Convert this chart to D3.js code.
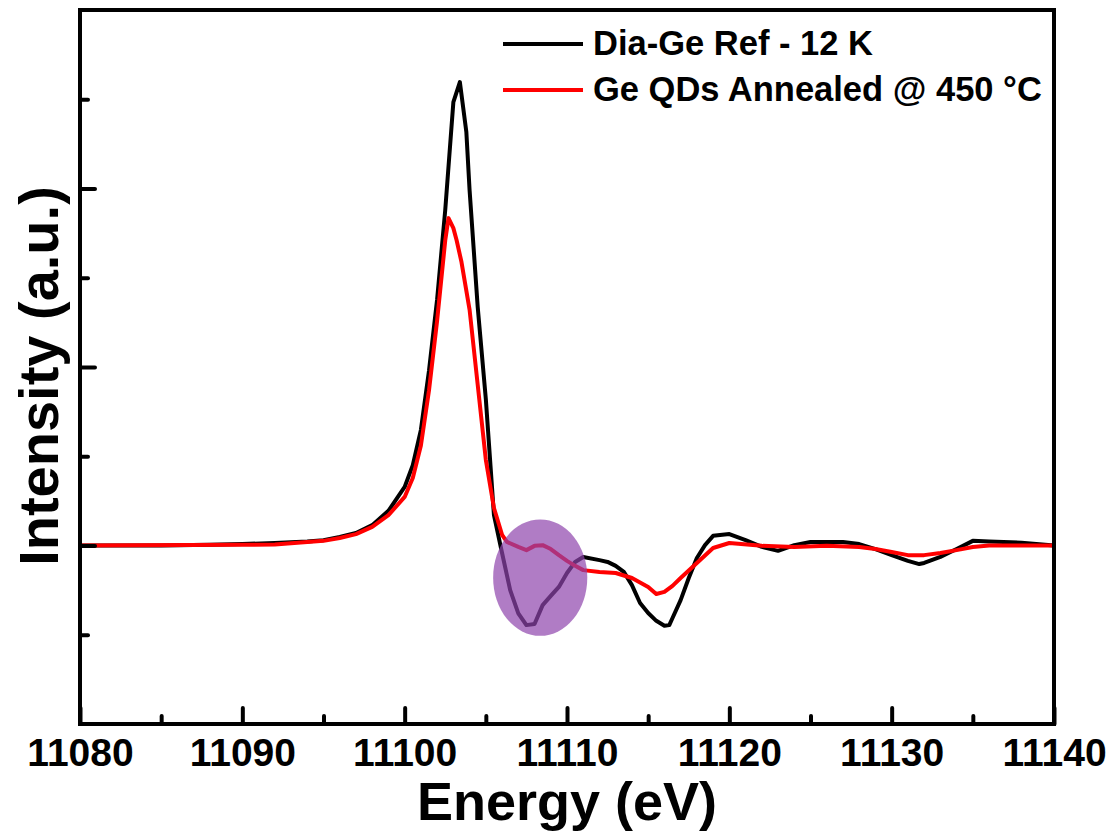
<!DOCTYPE html>
<html>
<head>
<meta charset="utf-8">
<script src="https://cdn.jsdelivr.net/npm/d3@7"></script>
<style>
  body { margin: 0; background: #fff; }
  text { font-family: "Liberation Sans", Arial, sans-serif; font-weight: bold; fill: #000; }
</style>
</head>
<body>
<svg id="chart" width="1117" height="836"></svg>
<script>
// energy (eV) / normalized intensity
var refEnergy = [11080, 11085, 11088, 11090, 11092, 11094, 11095, 11096, 11097, 11098, 11099, 11100,
    11100.5, 11101, 11101.5, 11102, 11102.5, 11103, 11103.4, 11103.8, 11104, 11104.5, 11105, 11105.5,
    11106, 11106.5, 11107, 11107.5, 11108, 11108.5, 11109, 11109.5, 11110, 11110.5, 11111, 11112,
    11112.5, 11113, 11113.5, 11114, 11114.5, 11115, 11115.5, 11116, 11116.3, 11116.5, 11117, 11117.5,
    11118, 11118.5, 11119, 11120, 11121, 11122, 11123, 11124, 11125, 11127, 11128, 11129, 11130,
    11131, 11131.7, 11132, 11133, 11134, 11135, 11136, 11138, 11140]
var refIntensity = [0, 0, 0.002, 0.004, 0.007, 0.011, 0.015, 0.024, 0.035, 0.057, 0.097, 0.164,
    0.225, 0.324, 0.49, 0.69, 0.94, 1.242, 1.298, 1.158, 0.995, 0.668, 0.41, 0.085,
    -0.021, -0.125, -0.19, -0.223, -0.22, -0.167, -0.141, -0.116, -0.077, -0.046, -0.032, -0.041,
    -0.046, -0.057, -0.074, -0.111, -0.161, -0.189, -0.211, -0.225, -0.223, -0.203, -0.153, -0.091,
    -0.035, 0.001, 0.027, 0.032, 0.015, -0.004, -0.015, 0.001, 0.01, 0.01, 0.004, -0.01, -0.027,
    -0.043, -0.052, -0.049, -0.032, -0.01, 0.013, 0.011, 0.008, 0]

var qdEnergy = [11080, 11090, 11092, 11094, 11095, 11096, 11097, 11098, 11099, 11100, 11100.5, 11101,
    11101.5, 11102, 11102.5, 11102.7, 11103, 11103.2, 11103.5, 11104, 11104.5, 11105, 11105.5, 11106,
    11106.3, 11107, 11107.5, 11108, 11108.5, 11109, 11109.5, 11110, 11110.5, 11111, 11112, 11113,
    11114, 11115, 11115.5, 11116, 11116.5, 11117, 11118, 11119, 11120, 11122, 11124, 11126, 11128,
    11129, 11130, 11131, 11132, 11133, 11134, 11135, 11136, 11140]
var qdIntensity = [0, 0.002, 0.003, 0.01, 0.013, 0.021, 0.032, 0.052, 0.085, 0.136, 0.189, 0.28,
    0.435, 0.63, 0.855, 0.917, 0.889, 0.855, 0.794, 0.66, 0.45, 0.24, 0.105, 0.03,
    0.01, -0.004, -0.013, -0.001, 0.001, -0.01, -0.027, -0.043, -0.057, -0.069, -0.074, -0.077,
    -0.091, -0.116, -0.136, -0.130, -0.113, -0.091, -0.049, -0.007, 0.007, -0.001, -0.004, -0.001, -0.004,
    -0.01, -0.018, -0.027, -0.027, -0.021, -0.013, -0.004, 0, 0]

var seriesNames = ["Dia-Ge Ref - 12 K", "Ge QDs Annealed @ 450 \u00B0C"]
var seriesColors = ["#000000", "#ff0000"]

var xMajor = [11080, 11090, 11100, 11110, 11120, 11130, 11140]
var xMinor = [11085, 11095, 11105, 11115, 11125, 11135]
var yMajor = [0, 0.5, 1.0]
var yMinor = [-0.25, 0.25, 0.75, 1.25]

// highlighted region (centre energy, centre intensity, half widths)
var highlight = { e: 11108.35, v: -0.09, re: 2.9, rv: 0.163 }

var svg = d3.select("#chart"),
    margin = { top: 10, right: 63, bottom: 112, left: 80 },
    width = +svg.attr("width") - margin.left - margin.right,
    height = +svg.attr("height") - margin.top - margin.bottom;

var x = d3.scaleLinear().domain([11080, 11140]).range([0, width]),
    y = d3.scaleLinear().domain([-0.5, 1.5]).range([height, 0]);

var g = svg.append("g")
    .attr("transform", "translate(" + margin.left + "," + margin.top + ")");

var line = d3.line()
    .x(function(d) { return x(d[0]); })
    .y(function(d) { return y(d[1]); });

var refData = refEnergy.map(function(e, i) { return [e, refIntensity[i]]; });
var qdData = qdEnergy.map(function(e, i) { return [e, qdIntensity[i]]; });

g.append("path")
    .datum(refData)
    .attr("d", line)
    .attr("fill", "none")
    .attr("stroke", seriesColors[0])
    .attr("stroke-width", 4)
    .attr("stroke-linejoin", "round");

g.append("path")
    .datum(qdData)
    .attr("d", line)
    .attr("fill", "none")
    .attr("stroke", seriesColors[1])
    .attr("stroke-width", 4)
    .attr("stroke-linejoin", "round");

g.append("ellipse")
    .attr("cx", x(highlight.e))
    .attr("cy", y(highlight.v))
    .attr("rx", x(highlight.e + highlight.re) - x(highlight.e))
    .attr("ry", y(highlight.v) - y(highlight.v + highlight.rv))
    .attr("fill", "#8e44ad")
    .attr("fill-opacity", 0.7);

// axes
var xAxis = g.append("g")
    .attr("transform", "translate(0," + height + ")")
    .call(d3.axisBottom(x).tickValues(xMajor).tickSize(-16).tickPadding(14)
        .tickFormat(d3.format("d")));
xAxis.selectAll("text").style("font-size", "39px").attr("dy", "0.71em");

g.append("g")
    .attr("transform", "translate(0," + height + ")")
    .call(d3.axisBottom(x).tickValues(xMinor).tickSize(-8).tickFormat(""));

g.append("g")
    .call(d3.axisLeft(y).tickValues(yMajor).tickSize(-15).tickFormat(""));
g.append("g")
    .call(d3.axisLeft(y).tickValues(yMinor).tickSize(-8).tickFormat(""));

g.selectAll(".domain").remove();
g.selectAll(".tick line")
    .attr("stroke", "#000")
    .attr("stroke-width", 4)
    .attr("stroke-linecap", "round");

g.append("rect")
    .attr("width", width)
    .attr("height", height)
    .attr("fill", "none")
    .attr("stroke", "#000")
    .attr("stroke-width", 4);

// axis titles
g.append("text")
    .attr("text-anchor", "middle")
    .attr("x", width / 2)
    .attr("y", height + 96)
    .style("font-size", "54px")
    .text("Energy (eV)");

g.append("text")
    .attr("text-anchor", "middle")
    .attr("transform", "rotate(-90)")
    .attr("x", -(376 - margin.top))
    .attr("y", -22)
    .style("font-size", "56px")
    .text("Intensity (a.u.)");

// legend
var legend = g.selectAll(".legend")
    .data(seriesNames)
    .enter().append("g")
    .attr("class", "legend")
    .attr("transform", function(d, i) { return "translate(" + (503 - margin.left) + "," + (34 + i * 46) + ")"; });

legend.append("line")
    .attr("x1", 0).attr("x2", 80)
    .attr("y1", 0).attr("y2", 0)
    .attr("stroke", function(d, i) { return seriesColors[i]; })
    .attr("stroke-width", 4);

legend.append("text")
    .attr("x", 90)
    .attr("y", 11)
    .style("font-size", "34.5px")
    .text(function(d) { return d; });
</script>
</body>
</html>
